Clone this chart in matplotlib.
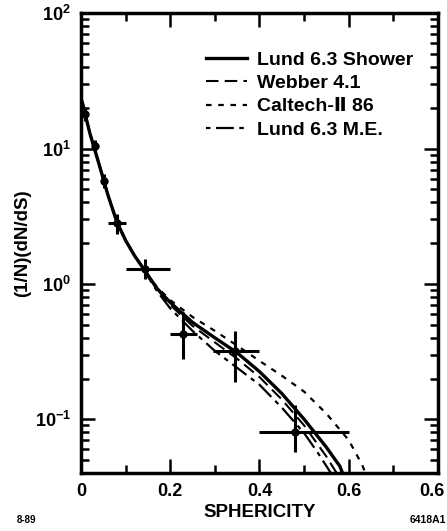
import numpy as np
import matplotlib
matplotlib.use('Agg')
import matplotlib.pyplot as plt
import matplotlib.transforms as mtransforms
from matplotlib.ticker import FixedLocator, LogLocator, NullFormatter

plt.rcParams['font.family'] = ['Liberation Sans', 'DejaVu Sans']
plt.rcParams['font.weight'] = 'bold'
plt.rcParams['axes.labelweight'] = 'bold'
plt.rcParams['mathtext.default'] = 'regular'
plt.rcParams['axes.unicode_minus'] = False

# ── data ─────────────────────────────────────────────────────────────────────
data_x = [0.009, 0.031, 0.052, 0.080, 0.143, 0.229, 0.345, 0.480]
data_y = [18.0, 10.5, 5.8, 2.8, 1.29, 0.43, 0.32, 0.080]
data_xlo = [0.004, 0.006, 0.006, 0.020, 0.043, 0.029, 0.049, 0.080]
data_xhi = [0.004, 0.006, 0.006, 0.020, 0.057, 0.031, 0.055, 0.120]
data_ylo = [2.0, 1.0, 0.7, 0.45, 0.20, 0.15, 0.13, 0.023]
data_yhi = [2.0, 1.0, 0.7, 0.50, 0.23, 0.19, 0.13, 0.047]

shower_x = [0.003, 0.02, 0.04, 0.06, 0.08, 0.10, 0.12, 0.14, 0.17, 0.20, 0.25,
            0.30, 0.35, 0.40, 0.45, 0.50, 0.55, 0.58, 0.59]
shower_y = [22.0, 13.0, 7.8, 4.6, 2.9, 2.1, 1.62, 1.3, 0.93, 0.73, 0.52,
            0.40, 0.31, 0.225, 0.155, 0.10, 0.062, 0.045, 0.037]

webber_x = [0.003, 0.02, 0.04, 0.06, 0.08, 0.10, 0.12, 0.14, 0.17, 0.20, 0.25,
            0.30, 0.35, 0.40, 0.45, 0.50, 0.55, 0.575]
webber_y = [22.0, 13.0, 7.8, 4.6, 2.9, 2.1, 1.62, 1.3, 0.92, 0.70, 0.49,
            0.37, 0.28, 0.205, 0.14, 0.09, 0.053, 0.039]

caltech_x = [0.003, 0.02, 0.04, 0.06, 0.08, 0.10, 0.12, 0.14, 0.17, 0.20, 0.25,
             0.30, 0.35, 0.40, 0.45, 0.50, 0.55, 0.60, 0.63, 0.64]
caltech_y = [22.0, 13.0, 7.8, 4.6, 2.9, 2.1, 1.62, 1.3, 0.95, 0.76, 0.57,
             0.45, 0.35, 0.27, 0.21, 0.16, 0.11, 0.07, 0.046, 0.038]

lundme_x = [0.003, 0.02, 0.04, 0.06, 0.08, 0.10, 0.12, 0.14, 0.17, 0.20, 0.25,
            0.30, 0.35, 0.40, 0.45, 0.50, 0.53, 0.56]
lundme_y = [22.0, 13.0, 7.8, 4.6, 2.9, 2.1, 1.62, 1.28, 0.89, 0.66, 0.45,
            0.32, 0.24, 0.18, 0.122, 0.079, 0.057, 0.040]

x_ticks = [0, 0.2, 0.4, 0.6, 0.8]
x_tick_labels = ["0", "0.2", "0.4", "0.6", "0.6"]

# ── plot ─────────────────────────────────────────────────────────────────────
fig = plt.figure(figsize=(4.47, 5.31), dpi=100)
ax = fig.add_axes([0.181, 0.109, 0.799, 0.866])

ax.plot(shower_x, shower_y, color="black", lw=2.4, ls="-", label="Lund 6.3 Shower")
ax.plot(webber_x, webber_y, color="black", lw=1.5, ls=(0, (6, 3)), label="Webber 4.1")
ax.plot(caltech_x, caltech_y, color="black", lw=1.6, ls=(0, (2.5, 3)), label="Caltech-\u2161 86")
ax.plot(lundme_x, lundme_y, color="black", lw=1.6, ls=(0, (2, 2.5, 8, 2.5)), label="Lund 6.3 M.E.")

ax.errorbar(data_x, data_y, xerr=[data_xlo, data_xhi], yerr=[data_ylo, data_yhi],
            fmt="o", color="black", ms=5, elinewidth=2.2, capsize=0, zorder=5)

ax.set_yscale("log")
ax.set_xlim(0, 0.8)
ax.set_ylim(0.04, 100)

ax.xaxis.set_major_locator(FixedLocator(x_ticks))
ax.set_xticklabels(x_tick_labels)
ax.xaxis.set_minor_locator(FixedLocator([0.1, 0.3, 0.5, 0.7]))
ax.yaxis.set_minor_locator(LogLocator(base=10, subs=np.arange(2, 10)))
ax.yaxis.set_minor_formatter(NullFormatter())

ax.tick_params(which="both", direction="in", top=True, right=True, width=1.8)
ax.tick_params(which="major", length=10, labelsize=13, pad=7)
ax.tick_params(which="minor", length=6)
for sp in ax.spines.values():
    sp.set_linewidth(2.5)

# last x label sits a little inside the figure edge
last = ax.get_xticklabels()[-1]
last.set_transform(last.get_transform()
                   + mtransforms.ScaledTranslation(-6 / 100, 0, fig.dpi_scale_trans))

ax.set_xlabel("SPHERICITY", fontsize=13.5, labelpad=3)
ax.set_ylabel("(1/N)(dN/dS)", fontsize=13.5, labelpad=3)

ax.legend(loc="upper right", frameon=False, fontsize=14, handlelength=2.1,
          handletextpad=0.5, labelspacing=0.3, borderaxespad=0.0, borderpad=0.0,
          bbox_to_anchor=(0.93, 0.918))

fig.text(0.038, 0.016, "8-89", fontsize=7, fontweight="bold")
fig.text(0.998, 0.016, "6418A1", fontsize=7.5, fontweight="bold", ha="right")

fig.savefig("out.png", dpi=100, facecolor="white")
